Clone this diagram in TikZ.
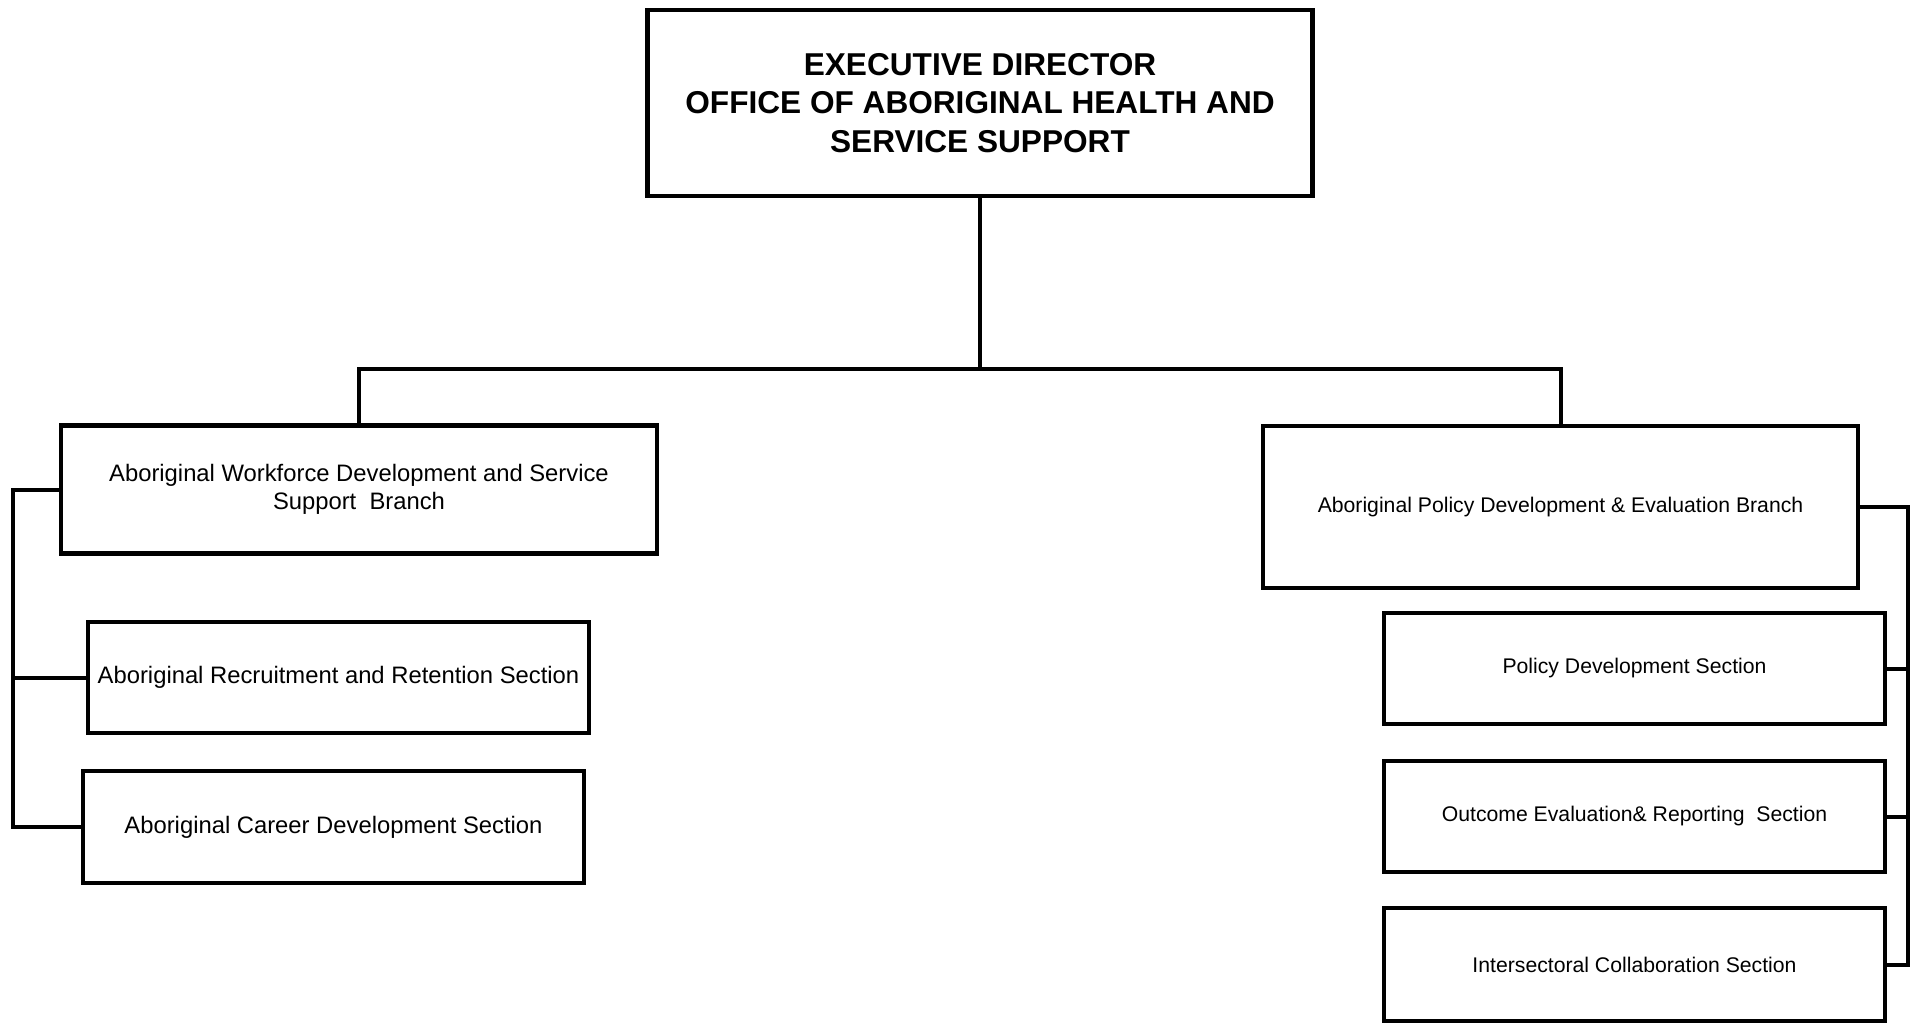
\documentclass[tikz,border=0pt]{standalone}
\usepackage{fontspec}
\setmainfont{Liberation Sans}
\begin{document}
\begin{tikzpicture}[x=0.5pt,y=-0.5pt,
  box/.style={draw=black,line width=2.1pt,rectangle,inner sep=0pt,align=center,fill=white},
  conn/.style={draw=black,line width=2pt},
  titlefont/.style={font=\fontsize{15.8pt}{19.2pt}\selectfont\bfseries},
  leftfont/.style={font=\fontsize{11.9pt}{14pt}\selectfont},
  rightfont/.style={font=\fontsize{10.6pt}{13pt}\selectfont}]
\useasboundingbox[fill=white] (0,0) rectangle (1912,1029);

\node[box,titlefont,minimum width=332.5pt,minimum height=93pt] (top) at (980,103)
  {EXECUTIVE DIRECTOR\\OFFICE OF ABORIGINAL HEALTH AND\\SERVICE SUPPORT};

\node[box,leftfont,minimum width=298pt,minimum height=64pt] (lb) at (359,489.5)
  {Aboriginal Workforce Development and Service\\Support\ \ Branch};
\node[box,leftfont,minimum width=250.5pt,minimum height=55.5pt] (rec) at (338.5,677.5)
  {Aboriginal Recruitment and Retention Section};
\node[box,leftfont,minimum width=250.5pt,minimum height=56pt] (car) at (333.5,827)
  {Aboriginal Career Development Section};

\node[box,rightfont,minimum width=297.5pt,minimum height=81pt] (rb) at (1560.5,507)
  {Aboriginal Policy Development \& Evaluation Branch};
\node[box,rightfont,minimum width=250.5pt,minimum height=55.5pt] (pol) at (1634.5,668.5)
  {Policy Development Section};
\node[box,rightfont,minimum width=250.5pt,minimum height=55.5pt] (out) at (1634.5,816.5)
  {Outcome Evaluation\& Reporting\ \ Section};
\node[box,rightfont,minimum width=250.5pt,minimum height=56.5pt] (int) at (1634.5,964.5)
  {Intersectoral Collaboration Section};

\coordinate (bus) at (980,369);
\coordinate (lsp) at (13.4,489.5);
\coordinate (rsp) at (1907.5,507);

\draw[conn] (top.south) -- (bus);
\draw[conn] (lb.north) |- (bus) -| (rb.north);

\draw[conn] (lb.west) -- (lsp) |- (car.west);
\draw[conn] (lsp |- rec.west) -- (rec.west);

\draw[conn] (rb.east) -- (rsp) |- (int.east);
\draw[conn] (rsp |- pol.east) -- (pol.east);
\draw[conn] (rsp |- out.east) -- (out.east);
\end{tikzpicture}
\end{document}
